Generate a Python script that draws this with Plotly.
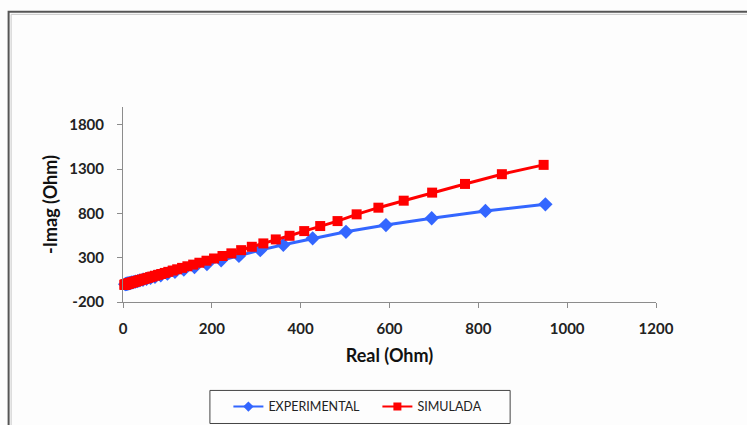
import plotly.graph_objects as go

# Nyquist data: real part vs negative imaginary part (Ohm)
exp_real = [951, 816, 695, 592, 502, 427, 361, 309, 261, 221, 189, 161, 137, 117,
            100, 85, 72, 62, 53, 45, 38, 33, 28, 24, 20, 17, 15, 13, 11, 9, 8, 7, 6, 5]
exp_imag = [902, 827, 745, 668, 592, 518, 445, 385, 320, 270, 229, 195, 166, 141,
            120, 101, 85, 72, 61, 51, 43, 36, 30, 25, 20, 16, 14, 11, 9, 6, 5, 4, 2, 1]

sim_real = [947, 853, 770, 696, 632, 575, 526, 483, 444, 408, 375, 344, 316, 290,
            266, 244, 224, 205, 188, 172, 158, 145, 133, 122, 112, 102, 94, 86, 79,
            72, 66, 61, 56, 51, 47, 43, 39, 36, 33, 30, 28, 25, 23, 21, 19, 18, 16,
            15, 13, 12, 11, 10, 9, 8, 7, 6, 5, 4, 3]
sim_imag = [1347, 1242, 1132, 1034, 943, 864, 789, 713, 657, 600, 547, 506, 461, 423,
            385, 349, 319, 291, 266, 243, 222, 203, 185, 169, 155, 140, 128, 116, 106,
            96, 87, 80, 72, 65, 59, 53, 48, 43, 38, 34, 31, 27, 24, 21, 18, 16, 14,
            12, 9, 7, 6, 4, 3, 1, 0, -2, -3, -5, -6]

x_ticks = [0, 200, 400, 600, 800, 1000, 1200]
y_ticks = [-200, 300, 800, 1300, 1800]

BLUE, RED = "#3366FF", "#FF0000"

W, H = 747, 425
ML, MR, MT, MB = 122.5, 91, 107, 123.3
PW, PH = W - ML - MR, H - MT - MB


def px_x(p):
    return (p - ML) / PW


def px_y(p):
    return (H - MB - p) / PH


fig = go.Figure()
fig.add_trace(go.Scatter(
    x=exp_real, y=exp_imag, name="EXPERIMENTAL", mode="lines+markers",
    line=dict(color=BLUE, width=3),
    marker=dict(symbol="diamond", size=11, color=BLUE),
    cliponaxis=False, showlegend=False,
))
fig.add_trace(go.Scatter(
    x=sim_real, y=sim_imag, name="SIMULADA", mode="lines+markers",
    line=dict(color=RED, width=3),
    marker=dict(symbol="square", size=10, color=RED),
    cliponaxis=False, showlegend=False,
))
# legend keys with the smaller symbols used in the key
fig.add_trace(go.Scatter(
    x=[None], y=[None], name="EXPERIMENTAL", mode="lines+markers",
    line=dict(color=BLUE, width=2), marker=dict(symbol="diamond", size=8, color=BLUE),
))
fig.add_trace(go.Scatter(
    x=[None], y=[None], name="SIMULADA", mode="lines+markers",
    line=dict(color=RED, width=2), marker=dict(symbol="square", size=8, color=RED),
))

axis_common = dict(
    showline=True, linecolor="#8c8c8c", linewidth=1,
    ticks="outside", ticklen=5, tickcolor="#8c8c8c",
    showgrid=False, zeroline=False,
    tickfont=dict(family="Lato", size=15, color="#222222", weight="bold"),
)

fig.update_xaxes(
    range=[0, 1200], tickvals=x_ticks, ticktext=[str(v) for v in x_ticks],
    ticklabelstandoff=8,
    title=dict(text="<b>Real (Ohm)</b>", font=dict(family="Lato", size=18, color="#111111"), standoff=13),
    **axis_common,
)
fig.update_yaxes(
    range=[-200, 2000], tickvals=y_ticks, ticktext=[str(v) for v in y_ticks],
    ticklabelstandoff=10,
    title=dict(text="<b>-Imag (Ohm)</b>", font=dict(family="Lato", size=18, color="#111111"), standoff=6),
    **axis_common,
)

# double chart-area frame
fig.add_shape(type="rect", xref="paper", yref="paper",
              x0=px_x(8), x1=px_x(800), y0=px_y(480), y1=px_y(12),
              line=dict(color="#555555", width=2), layer="below")
fig.add_shape(type="rect", xref="paper", yref="paper",
              x0=px_x(10.5), x1=px_x(800), y0=px_y(480), y1=px_y(14.5),
              line=dict(color="#c8c8c8", width=1), layer="below")
# legend box
fig.add_shape(type="rect", xref="paper", yref="paper",
              x0=px_x(209.5), x1=px_x(510), y0=px_y(423), y1=px_y(390),
              line=dict(color="#444444", width=1), fillcolor="#fdfdfd", layer="below")

fig.update_layout(
    width=W, height=H,
    margin=dict(l=ML, r=MR, t=MT, b=MB, autoexpand=False),
    paper_bgcolor="#fdfdfd", plot_bgcolor="#fdfdfd",
    showlegend=True,
    legend=dict(
        orientation="h", x=px_x(228), xanchor="left", y=px_y(406.5), yanchor="middle",
        borderwidth=0, bgcolor="rgba(0,0,0,0)",
        font=dict(family="Lato", size=12.5, color="#222222"),
        itemwidth=30, entrywidth=104,
    ),
)

fig.write_html("out.html")
